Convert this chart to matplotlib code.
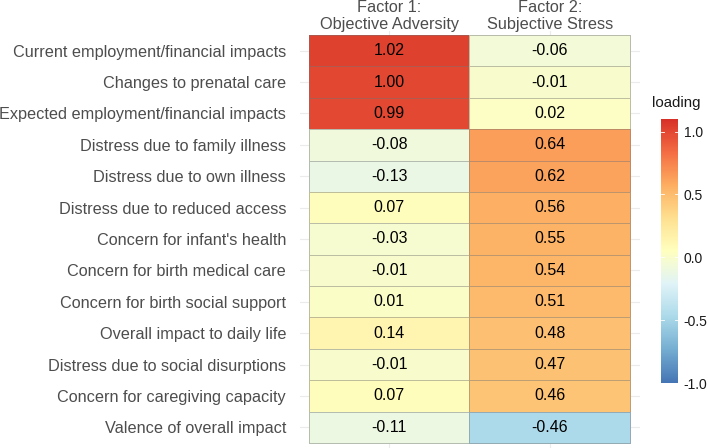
import numpy as np
import matplotlib
matplotlib.use("Agg")
import matplotlib.pyplot as plt
from matplotlib.colors import LinearSegmentedColormap, Normalize
import matplotlib.colorbar as mcolorbar

items = [
    "Current employment/financial impacts",
    "Changes to prenatal care",
    "Expected employment/financial impacts",
    "Distress due to family illness",
    "Distress due to own illness",
    "Distress due to reduced access",
    "Concern for infant's health",
    "Concern for birth medical care",
    "Concern for birth social support",
    "Overall impact to daily life",
    "Distress due to social disurptions",
    "Concern for caregiving capacity",
    "Valence of overall impact",
]
factor_line1 = ["Factor 1:", "Factor 2:"]
factor_line2 = ["Objective Adversity", "Subjective Stress"]
factor1 = [1.02, 1.00, 0.99, -0.08, -0.13, 0.07, -0.03, -0.01, 0.01, 0.14, -0.01, 0.07, -0.11]
factor2 = [-0.06, -0.01, 0.02, 0.64, 0.62, 0.56, 0.55, 0.54, 0.51, 0.48, 0.47, 0.46, -0.46]
legend_ticks = [-1.0, -0.5, 0.0, 0.5, 1.0]

plt.rcParams['font.family'] = ['Liberation Sans', 'DejaVu Sans']

pal = ["#4575B4", "#74ADD1", "#ABD9E9", "#E0F3F8", "#FFFFBF",
       "#FEE090", "#FDAE61", "#F46D43", "#D73027"]
cmap = LinearSegmentedColormap.from_list("rdylbu9", pal, N=256)
vmin, vmax = -1.0, 1.1
norm = Normalize(vmin=vmin, vmax=vmax)

W, H = 708, 448
fig = plt.figure(figsize=(W / 100, H / 100), dpi=100)

n = len(items)
pl, pr, pt, pb = 300, 640, 31, 448
ax = fig.add_axes([pl / W, 1 - pb / H, (pr - pl) / W, (pb - pt) / H])

vals = np.array([factor1, factor2]).T
xe = np.array([0.5, 1.5, 2.5])
ye = np.arange(n + 1) - 0.5
ax.pcolormesh(xe, ye, vals, cmap=cmap, norm=norm,
              edgecolors=(0.45, 0.45, 0.45, 0.45), linewidth=0.7, zorder=2)
for i in range(n):
    for j in range(2):
        ax.text(j + 1, i, f"{vals[i, j]:.2f}", ha="center", va="center",
                fontsize=11.5, color="black", zorder=3)

colw = (630 - 309) / 2
rowh = (443 - 35) / n
ax.set_xlim(0.5 - (309 - pl) / colw, 2.5 + (pr - 630) / colw)
ax.set_ylim(n - 0.5 + (pb - 443) / rowh, -0.5 - (35 - pt) / rowh)

ax.set_xticks([1, 2])
ax.set_xticklabels(["", ""])
ax.xaxis.tick_top()
for j in range(2):
    xfig = (pl + (309 + colw * (j + 0.5) - pl)) / W
    fig.text(xfig, 1 - 12.5 / H, factor_line1[j], fontsize=11.7, color="#4D4D4D",
             ha="center", va="baseline")
    fig.text(xfig, 1 - 28.5 / H, factor_line2[j], fontsize=11.7, color="#4D4D4D",
             ha="center", va="baseline")
ax.set_yticks(range(n))
ax.set_yticklabels(items, fontsize=11.7, color="#4D4D4D")
ax.tick_params(length=0)
ax.tick_params(axis="y", pad=10)
ax.grid(True, color="#EBEBEB", linewidth=0.8, zorder=0)
ax.set_axisbelow(True)
for s in ax.spines.values():
    s.set_visible(False)

cax = fig.add_axes([661 / W, 1 - 383 / H, 17 / W, (383 - 119) / H])
cb = mcolorbar.ColorbarBase(cax, cmap=cmap, norm=norm, orientation="vertical")
cb.outline.set_visible(False)
cb.set_ticks(legend_ticks)
cb.set_ticklabels([f"{t:.1f}" for t in legend_ticks])
cax.tick_params(length=0, pad=4, labelsize=10, colors="#1A1A1A")
for t in legend_ticks:
    cax.plot([0, 0.2], [t, t], color="white", lw=0.6)
    cax.plot([0.8, 1.0], [t, t], color="white", lw=0.6)
cax.set_xlim(0, 1)
fig.text(652 / W, 1 - 103 / H, "loading", fontsize=10.8, color="#1A1A1A",
         ha="left", va="center")

fig.savefig("out.png", dpi=100)
